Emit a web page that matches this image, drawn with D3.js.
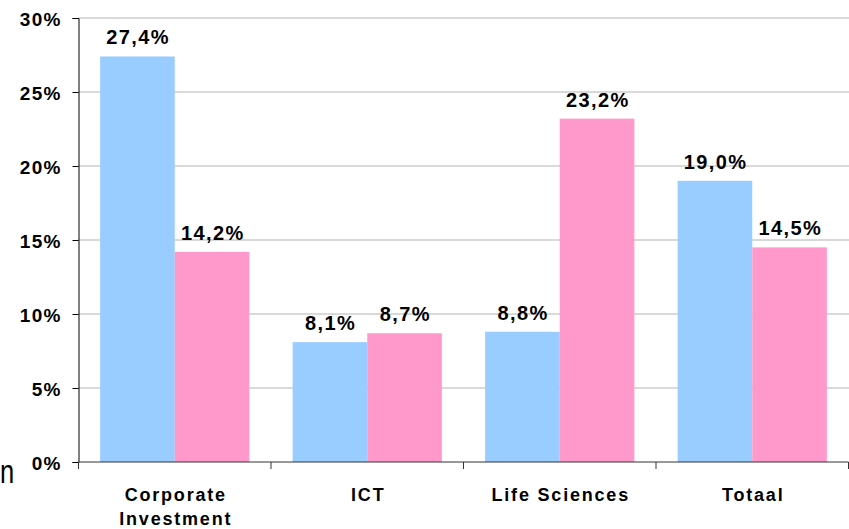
<!DOCTYPE html>
<html><head><meta charset="utf-8">
<script src="https://cdn.jsdelivr.net/npm/d3@7"></script>
<style>body{margin:0;background:#fff}svg{display:block}</style>
</head><body><svg id="c" width="849" height="529"></svg>
<script>
const categories = ["Corporate Investment", "ICT", "Life Sciences", "Totaal"];
const seriesA = [27.4, 8.1, 8.8, 19.0];
const seriesB = [14.2, 8.7, 23.2, 14.5];
const yTicks = [0, 5, 10, 15, 20, 25, 30];
const colors = ["#99ccff", "#ff99cc"];

const svg = d3.select("#c");
const m = {l: 78.5, r: 848.5, t: 18, b: 462};
const x = d3.scaleBand().domain(categories).range([m.l, m.r]).paddingInner(0).paddingOuter(0);
const inner = d3.scaleBand().domain([0, 1]).range([0, x.bandwidth()]).paddingOuter(0.29).paddingInner(0);
const y = d3.scaleLinear().domain([0, 30]).range([m.b, m.t]);
const font = "Arial, 'Liberation Sans', sans-serif";

// gridlines
svg.append("g").selectAll("line").data(yTicks.filter(d => d > 0)).join("line")
  .attr("x1", m.l).attr("x2", 849).attr("y1", d => y(d)).attr("y2", d => y(d))
  .attr("stroke", "#cccccc").attr("stroke-width", 1.5);

// bars
const series = [seriesA, seriesB];
series.forEach((vals, si) => {
  svg.append("g").selectAll("rect").data(categories).join("rect")
    .attr("x", (c) => x(c) + inner(si))
    .attr("width", inner.bandwidth())
    .attr("y", (c, i) => y(vals[i]))
    .attr("height", (c, i) => y(0) - y(vals[i]))
    .attr("fill", colors[si]);
  svg.append("g").selectAll("text").data(categories).join("text")
    .attr("x", (c) => x(c) + inner(si) + inner.bandwidth() / 2 + 0.7)
    .attr("y", (c, i) => y(vals[i]) - 12)
    .attr("text-anchor", "middle")
    .attr("font-family", font).attr("font-weight", "bold").attr("font-size", 20)
    .attr("letter-spacing", 1.4)
    .attr("fill", "#000")
    .text((c, i) => vals[i].toFixed(1).replace(".", ",") + "%");
});

// y axis
const ya = svg.append("g").attr("transform", `translate(${m.l},0)`)
  .call(d3.axisLeft(y).tickValues(yTicks).tickSize(6).tickFormat(d => d + "%"));
ya.select(".domain").attr("stroke", "#000");
ya.selectAll(".tick line").attr("stroke", "#000");
ya.selectAll(".tick text").attr("font-family", font).attr("font-weight", "bold")
  .attr("font-size", 19).attr("letter-spacing", 1.2).attr("fill", "#000")
  .attr("x", -17).attr("dy", "0.42em");

// x axis
const xa = svg.append("g").attr("transform", `translate(0,${m.b})`)
  .call(d3.axisBottom(x).tickSize(0).tickFormat(""));
xa.select(".domain").attr("stroke", "#333").attr("d", `M${m.l},0H${m.r}`);
xa.selectAll(".tick line").remove();
svg.append("g").selectAll("line").data(categories.concat(["end"])).join("line")
  .attr("x1", (c, i) => i < categories.length ? x(c) : m.r)
  .attr("x2", (c, i) => i < categories.length ? x(c) : m.r)
  .attr("y1", m.b).attr("y2", m.b + 7).attr("stroke", "#333");

// category labels
const cl = svg.append("g").selectAll("text").data(categories).join("text")
  .attr("y", 501)
  .attr("text-anchor", "middle")
  .attr("font-family", font).attr("font-weight", "bold").attr("font-size", 18)
  .attr("letter-spacing", 1.8)
  .attr("fill", "#000");
cl.each(function(c) {
  const words = c === "Corporate Investment" ? ["Corporate", "Investment"] : [c];
  const t = d3.select(this);
  words.forEach((w, i) => t.append("tspan").attr("x", x(c) + x.bandwidth() / 2 + 1)
    .attr("dy", i === 0 ? 0 : 24).text(w));
});

// stray character at left edge
svg.append("text").attr("transform", "translate(0,483) scale(0.75,1)")
  .attr("font-family", font).attr("font-size", 34).attr("fill", "#000").text("n");
</script></body></html>
